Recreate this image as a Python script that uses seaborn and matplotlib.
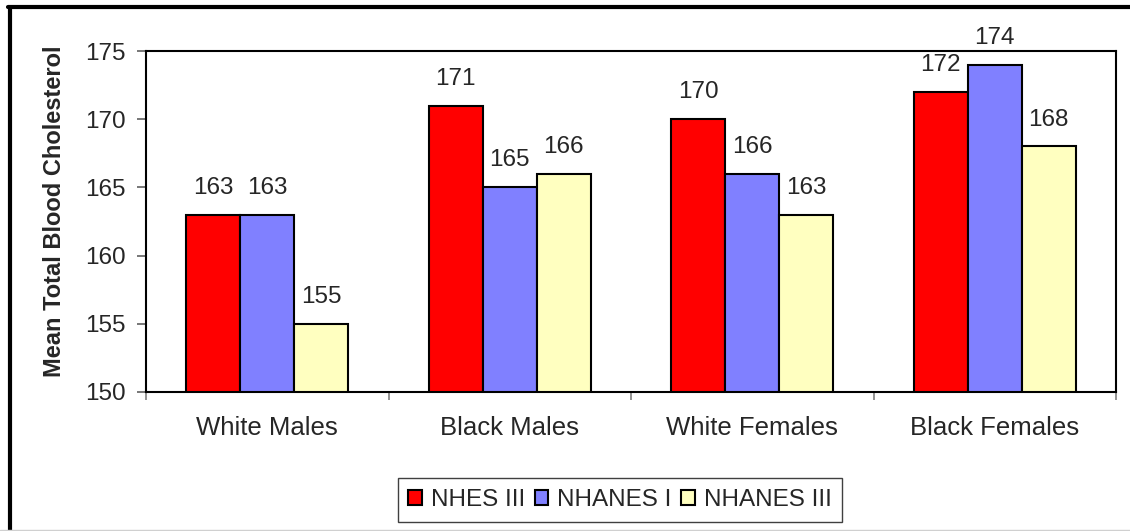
import numpy as np
import pandas as pd
import matplotlib
matplotlib.use('Agg')
import matplotlib.pyplot as plt
from matplotlib.lines import Line2D
import seaborn as sns

groups = ['White Males', 'Black Males', 'White Females', 'Black Females']
surveys = ['NHES III', 'NHANES I', 'NHANES III']
nhes3 = [163, 171, 170, 172]
nhanes1 = [163, 165, 166, 174]
nhanes3 = [155, 166, 163, 168]
yticks = [150, 155, 160, 165, 170, 175]
colors = ['#FF0000', '#8080FF', '#FFFFC0']

df = pd.DataFrame({
    'group': groups * 3,
    'survey': np.repeat(surveys, len(groups)),
    'value': nhes3 + nhanes1 + nhanes3,
})

sns.set_style('white')
plt.rcParams['font.family'] = ['Liberation Sans', 'DejaVu Sans']

fig = plt.figure(figsize=(11.3, 5.31), dpi=100)
ax = fig.add_axes([146 / 1130, 139 / 531, 970 / 1130, 341 / 531])

sns.barplot(data=df, x='group', y='value', hue='survey', order=groups,
            hue_order=surveys, palette=colors, width=0.668, gap=0,
            edgecolor='black', linewidth=1.5, saturation=1, ax=ax,
            legend=True)

for cont in ax.containers:
    ax.bar_label(cont, fmt='%d', padding=11.5, fontsize=17.5)

ax.set_ylim(150, 175)
ax.set_yticks(yticks)
ax.set_xlim(-0.5, 3.5)
ax.set_xticks(np.arange(-0.5, 4, 1))
ax.set_xticklabels([])
ax.set_xticks(range(len(groups)), groups, minor=True)
ax.tick_params(axis='x', which='major', length=6, width=1.2, color='#808080', direction='out', bottom=True)
ax.tick_params(axis='x', which='minor', length=0, pad=17, labelsize=18.5)
ax.tick_params(axis='y', length=6.5, width=1.2, color='#606060', direction='out', left=True, pad=8, labelsize=17.5)
ax.set_xlabel('')
ax.set_ylabel('')
for s in ax.spines.values():
    s.set_visible(True)
    s.set_color('black')
    s.set_linewidth(1.5)

fig.text(55 / 1130, 1 - 211 / 531, 'Mean Total Blood Cholesterol', rotation=90,
         ha='center', va='center', fontsize=17, fontweight='bold')

ax.get_legend().remove()
leg = fig.legend(*ax.get_legend_handles_labels(), loc='center',
                 bbox_to_anchor=(620 / 1130, 1 - 500 / 531), ncol=3,
                 fontsize=17.5, frameon=True, fancybox=False, handlelength=0.55,
                 handleheight=0.55, handletextpad=0.37, columnspacing=0.4,
                 borderpad=0.45, edgecolor='#404040', framealpha=1)
leg.get_frame().set_linewidth(1)
for h in leg.legend_handles:
    h.set_edgecolor('black')
    h.set_linewidth(1.5)

# outer chart border
fig.add_artist(Line2D([10 / 1130, 10 / 1130], [0, 1 - 7 / 531], color='black', lw=3, transform=fig.transFigure))
fig.add_artist(Line2D([8 / 1130, 1], [1 - 7 / 531, 1 - 7 / 531], color='black', lw=3, transform=fig.transFigure))
fig.add_artist(Line2D([0, 1], [1 / 531, 1 / 531], color='#d0d0d0', lw=1, transform=fig.transFigure))

fig.savefig('out.png', dpi=100)
